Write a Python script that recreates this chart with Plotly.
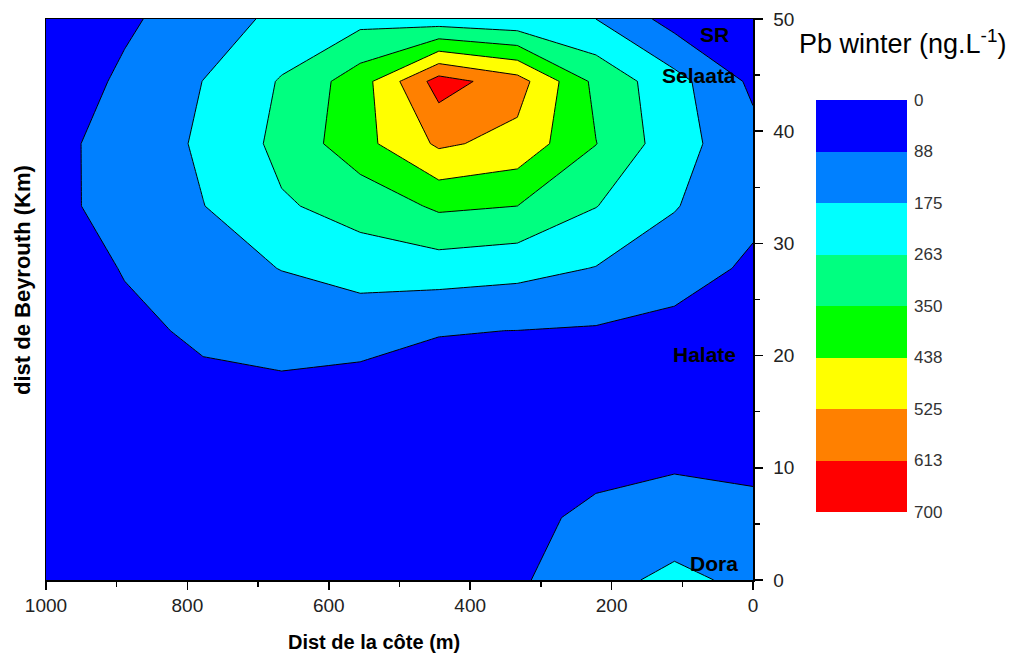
import plotly.graph_objects as go

# ---------------- data ----------------
dist_cote = [0, 111.1, 222.2, 333.3, 444.4, 555.6, 666.7, 777.8, 888.9, 1000]   # m
dist_beyrouth = [0, 5.56, 11.11, 16.67, 22.22, 27.78, 33.33, 38.89, 44.44, 50]  # km

pb_winter = [
    [160, 190, 155, 73, 50, 45, 45, 40, 35, 30],
    [120, 140, 105, 65, 45, 40, 40, 35, 30, 25],
    [55, 65, 60, 45, 40, 45, 50, 45, 35, 25],
    [40, 50, 50, 55, 65, 75, 78, 70, 50, 30],
    [40, 60, 80, 87, 90, 100, 105, 100, 70, 30],
    [72, 130, 172, 203, 219, 225, 178, 130, 92, 40],
    [110, 180, 265, 350, 365, 290, 254, 173, 110, 69],
    [115, 209, 352, 497, 539, 408, 284, 192, 103, 75],
    [70, 205, 327, 563, 651, 397, 270, 176, 103, 30],
    [20, 53, 175, 193, 210, 235, 195, 134, 73, 30],
]

level_labels = ["0", "88", "175", "263", "350", "438", "525", "613", "700"]
band_colors = ["#0000FF", "#0080FF", "#00FFFF", "#00FF80",
               "#00FF00", "#FFFF00", "#FF8000", "#FF0000"]

site_names = ["SR", "Selaata", "Halate", "Dora"]
site_x = [55, 76, 69, 55]
site_y = [48.6, 45.0, 20.1, 1.5]

# ---------------- figure ----------------
n = len(band_colors)
nb = n + 1  # contour colour sampling divisions
# stepped colour scale: band i is sampled near p = (i+1)/9
cont_scale = []
for i, c in enumerate(band_colors):
    lo = 0.0 if i == 0 else (i + 0.5) / nb
    hi = 1.0 if i == n - 1 else (i + 1.5) / nb
    cont_scale.append([lo, c])
    cont_scale.append([hi, c])

fig = go.Figure()
fig.add_trace(go.Contour(
    x=dist_cote, y=dist_beyrouth, z=pb_winter,
    colorscale=cont_scale, showscale=False,
    zmin=0, zmax=700,
    contours=dict(start=0, end=700, size=87.5, coloring="fill", showlines=True),
    line=dict(color="black", width=1, smoothing=0),
    hoverinfo="skip",
))

# legend bar (0 at top, 700 at bottom)
leg_scale = []
for i, c in enumerate(band_colors):
    leg_scale.append([i / n, c])
    leg_scale.append([(i + 1) / n, c])
fig.add_trace(go.Heatmap(
    x=[0], y=[i + 0.5 for i in range(n)], z=[[i + 0.5] for i in range(n)],
    zmin=0, zmax=n, colorscale=leg_scale, showscale=False,
    xaxis="x2", yaxis="y2", hoverinfo="skip",
))

W, H = 1023, 655
ml, mr, mt = 46, 10, 19
mb = H - 580
pw, ph = W - ml - mr, H - mt - mb

def px_x(p):  # page pixel -> paper fraction
    return (p - ml) / pw

def px_y(p):
    return (H - mb - p) / ph

FONT = "Arial, Liberation Sans, sans-serif"
tick_font = dict(family=FONT, size=19, color="#222")

fig.update_layout(
    width=W, height=H,
    margin=dict(l=ml, r=mr, t=mt, b=mb, autoexpand=False),
    paper_bgcolor="white", plot_bgcolor="white",
    showlegend=False,
    xaxis=dict(
        domain=[0, px_x(753)], range=[1000, 0], automargin=False,
        showgrid=False, zeroline=False,
        showline=True, linecolor="black", linewidth=1.5, mirror=True,
        ticks="outside", ticklen=8, tickwidth=1.5, tickcolor="black",
        tickvals=[1000, 800, 600, 400, 200, 0],
        minor=dict(tickvals=[900, 700, 500, 300, 100], ticks="outside",
                   ticklen=5, tickwidth=1.5, tickcolor="black"),
        tickfont=tick_font,
    ),
    yaxis=dict(
        domain=[0, 1], range=[0, 50], side="right", automargin=False,
        showgrid=False, zeroline=False,
        showline=True, linecolor="black", linewidth=1.5, mirror=True,
        ticks="outside", ticklen=8, tickwidth=1.5, tickcolor="black",
        tickvals=[0, 10, 20, 30, 40, 50],
        minor=dict(tickvals=[5, 15, 25, 35, 45], ticks="outside",
                   ticklen=5, tickwidth=1.5, tickcolor="black"),
        ticklabelstandoff=7,
        tickfont=tick_font,
    ),
    xaxis2=dict(
        domain=[px_x(816), px_x(907)], range=[-0.5, 0.5], anchor="y2",
        automargin=False,
        showgrid=False, zeroline=False, showline=False,
        showticklabels=False, ticks="",
    ),
    yaxis2=dict(
        domain=[px_y(512), px_y(100)], range=[n, 0], anchor="x2", side="right",
        automargin=False,
        showgrid=False, zeroline=False, showline=False, ticks="",
        tickvals=list(range(n + 1)), ticktext=level_labels,
        ticklabelstandoff=6,
        tickfont=dict(family=FONT, size=17, color="#333"),
    ),
)

annotations = []
for name, sx, sy in zip(site_names, site_x, site_y):
    annotations.append(dict(
        x=sx, y=sy, xref="x", yref="y", text="<b>%s</b>" % name,
        showarrow=False, xanchor="center", yanchor="middle",
        font=dict(family=FONT, size=21, color="black"),
    ))

annotations.append(dict(
    x=px_x(374), y=px_y(642), xref="paper", yref="paper",
    text="<b>Dist de la côte (m)</b>", showarrow=False,
    xanchor="center", yanchor="middle",
    font=dict(family=FONT, size=20, color="black"),
))
annotations.append(dict(
    x=px_x(22), y=px_y(280), xref="paper", yref="paper",
    text="<b>dist de Beyrouth (Km)</b>", showarrow=False, textangle=-90,
    xanchor="center", yanchor="middle",
    font=dict(family=FONT, size=22, color="black"),
))
annotations.append(dict(
    x=px_x(902), y=px_y(42), xref="paper", yref="paper",
    text="Pb winter (ng.L<sup>-1</sup>)", showarrow=False,
    xanchor="center", yanchor="middle",
    font=dict(family=FONT, size=27, color="black"),
))
fig.update_layout(annotations=annotations)

fig.write_html(
    "out.html",
    config={"displayModeBar": False, "staticPlot": True},
    post_script="document.body.style.margin='0px';document.body.style.overflow='hidden';",
)
